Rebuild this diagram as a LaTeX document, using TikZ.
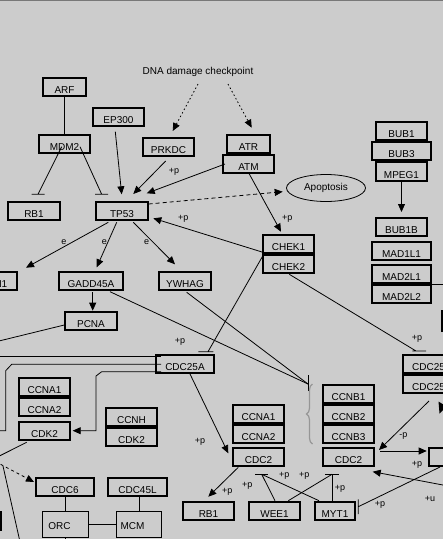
\documentclass[tikz,border=0pt]{standalone}
\usepackage{fontspec}
\setmainfont{Liberation Sans}
\usetikzlibrary{arrows.meta,decorations.pathreplacing,shapes.geometric}
\definecolor{bg}{RGB}{204,204,204}
\definecolor{topline}{RGB}{120,120,120}
\definecolor{bracegray}{RGB}{150,150,150}
\begin{document}
\begin{tikzpicture}[x=1pt,y=-1pt,
  gene/.style={draw=black, line width=2pt, minimum height=18pt, inner sep=0pt, text height=13pt, text depth=0pt, font=\fontsize{10}{12}\selectfont},
  thinbox/.style={draw=black, line width=1pt, inner sep=0pt},
  lbl/.style={font=\fontsize{9}{10}\selectfont, inner sep=0pt},
  txt/.style={font=\fontsize{10}{12}\selectfont, inner sep=0pt},
  conn/.style={line width=0.8pt},
  arr/.style={conn, -{Triangle[length=8pt,width=7pt]}},
  dotarr/.style={conn, dash pattern=on 1.5pt off 2.5pt, -{Triangle[length=8pt,width=7pt]}},
  dasharr/.style={conn, dash pattern=on 4pt off 3pt, -{Triangle[length=8pt,width=7pt]}},
]
\useasboundingbox (0,0) rectangle (443,539);
\fill[bg] (0,0) rectangle (443,539);
\begin{scope}
\clip (0,0) rectangle (443,539);
\draw[topline, line width=1.2pt] (0,0.6) -- (443,0.6);

% ---------- boxes ----------
\node[gene,minimum width=43pt] (ARF) at (64.5,87) {ARF};
\node[gene,minimum width=51pt] (MDM2) at (64.5,144) {MDM2};
\node[gene,minimum width=51pt] (EP300) at (118.5,117) {EP300};
\node[gene,minimum width=51pt] (PRKDC) at (168.5,146.5) {PRKDC};
\node[gene,minimum width=43pt] (ATR) at (248.5,144) {ATR};
\node[gene,minimum width=51pt] (ATM) at (248.5,164) {ATM};
\node[gene,minimum width=51pt] (BUB1) at (401.5,131) {BUB1};
\node[gene,minimum width=59pt] (BUB3) at (401.5,151) {BUB3};
\node[gene,minimum width=51pt,minimum height=19pt] (MPEG1) at (401.5,171.5) {MPEG1};
\node[gene,minimum width=52pt] (RBa) at (34,211) {RB1};
\node[gene,minimum width=52pt] (TP53) at (122,211) {TP53};
\node[gene,minimum width=51pt] (CHEK1) at (288.5,244) {CHEK1};
\node[gene,minimum width=51pt] (CHEK2) at (288.5,264) {CHEK2};
\node[gene,minimum width=51pt] (BUB1B) at (401.5,227) {BUB1B};
\node[gene,minimum width=59pt] (MAD1L1) at (401.5,251) {MAD1L1};
\node[gene,minimum width=59pt] (MAD2L1) at (401.5,274) {MAD2L1};
\node[gene,minimum width=59pt] (MAD2L2) at (401.5,294) {MAD2L2};
\node[gene,minimum width=56pt] (N1box) at (-11,281) {};
\node[txt,anchor=base east] (N1txt) at (7.5,287.3) {N1};
\node[gene,minimum width=64pt] (GADD) at (91,281) {GADD45A};
\node[gene,minimum width=52pt] (YWHAG) at (185,281) {YWHAG};
\node[gene,minimum width=52pt] (PCNA) at (91,321) {PCNA};
\node[gene,minimum width=58pt] (CDC25A) at (185,364) {CDC25A};
\node[gene,minimum width=68pt] (CDC25B) at (437,364) {};
\node[gene,minimum width=68pt] (CDC25C) at (437,384) {};
\node[txt,anchor=base west] (CDC25Bt) at (412,370.5) {CDC25};
\node[txt,anchor=base west] (CDC25Ct) at (412,390.5) {CDC25};
\node[gene,minimum width=51pt] (CCNA1a) at (44.5,387) {CCNA1};
\node[gene,minimum width=51pt] (CCNA2a) at (44.5,407) {CCNA2};
\node[gene,minimum width=51pt] (CDK2a) at (44.5,431) {CDK2};
\node[gene,minimum width=51pt] (CCNH) at (131.5,417) {CCNH};
\node[gene,minimum width=51pt] (CDK2b) at (131.5,437) {CDK2};
\node[gene,minimum width=51pt] (CCNA1b) at (258.5,414) {CCNA1};
\node[gene,minimum width=51pt] (CCNA2b) at (258.5,434) {CCNA2};
\node[gene,minimum width=51pt] (CDC2a) at (258.5,457) {CDC2};
\node[gene,minimum width=51pt] (CCNB1) at (348.5,394) {CCNB1};
\node[gene,minimum width=51pt] (CCNB2) at (348.5,414) {CCNB2};
\node[gene,minimum width=51pt] (CCNB3) at (348.5,434) {CCNB3};
\node[gene,minimum width=51pt] (CDC2b) at (348.5,457) {CDC2};
\node[gene,minimum width=58pt] (CDC6) at (65,487) {CDC6};
\node[gene,minimum width=59pt] (CDC45L) at (137.5,487) {CDC45L};
\node[thinbox,minimum width=46pt,minimum height=26pt] (ORC) at (65.5,524.5) {};
\node[txt,anchor=base] (ORCt) at (59.5,529) {ORC};
\node[thinbox,minimum width=45pt,minimum height=26pt] (MCM) at (139,524.5) {};
\node[txt,anchor=base] (MCMt) at (132.5,529) {MCM};
\node[gene,minimum width=51pt] (RBb) at (208.5,511) {RB1};
\node[gene,minimum width=51pt] (WEE1) at (274.5,511) {WEE1};
\node[gene,minimum width=40pt] (MYT1) at (335,511) {MYT1};
\node[gene,minimum width=40pt] (RBOX) at (449,457) {};
\node[gene,minimum width=40pt,minimum height=20pt] (RBOX2) at (462,321) {};
\node[gene,minimum width=50pt] (LBOX) at (-24,521) {};
\node[draw, ellipse, line width=0.8pt, minimum width=79pt, minimum height=27pt, inner sep=0pt, font=\fontsize{10}{12}\selectfont] (APOP) at (326,188) {Apoptosis};
\node[txt] (DNA) at (198,72) {DNA damage checkpoint};

% ---------- connectors ----------
\draw[conn] (ARF.south) -- (ARF.south |- MDM2.north);
\draw[conn] ([shift={(-2.8,2.7)}]MDM2.center) -- ([shift={(4,-16.7)}]RBa.center) ++(-6.5,0) -- ++(13,0);
\draw[conn] ([shift={(15.5,2.7)}]MDM2.center) -- ([shift={(-20.3,-16.7)}]TP53.center) ++(-6.5,0) -- ++(13,0);
\draw[arr] ([shift={(-3.2,14.7)}]EP300.center) -- ([shift={(-0.3,-16.7)}]TP53.center);
\draw[arr] ([shift={(-2.8,14.5)}]PRKDC.center) -- ([shift={(11.3,-17)}]TP53.center);
\draw[arr] ([shift={(-23.5,0)}]ATM.center) -- ([shift={(24.7,-17.7)}]TP53.center);
\draw[dotarr] ([shift={(0,12)}]DNA.center) -- ([shift={(4.2,-15.5)}]PRKDC.center);
\draw[dotarr] ([shift={(30,12)}]DNA.center) -- ([shift={(3.2,-16.3)}]ATR.center);
\draw[dasharr] ([shift={(26.7,-7)}]TP53.center) -- ([shift={(-43.3,3.7)}]APOP.center);
\draw[arr] ([shift={(0.8,10)}]ATM.center) -- ([shift={(-7.5,-12.3)}]CHEK1.center);
\draw[arr] ([shift={(-26.5,8)}]CHEK1.center) -- ([shift={(31.3,7.3)}]TP53.center);
\draw[arr] ([shift={(-13.7,11.3)}]TP53.center) -- ([shift={(37,-13.3)}]N1box.center);
\draw[arr] ([shift={(-5.3,11.3)}]TP53.center) -- ([shift={(5.7,-13.7)}]GADD.center);
\draw[arr] ([shift={(11.3,11.3)}]TP53.center) -- ([shift={(-10,-16.7)}]YWHAG.center);
\draw[arr] ([shift={(1.7,11)}]GADD.center) -- ([shift={(1.7,-10.3)}]PCNA.center);
\coordinate (pcnaL) at (-10,343.2);
\draw[conn] ([shift={(-26.7,4)}]PCNA.center) -- (pcnaL);
\coordinate (tb) at ([shift={(-40.5,-10)}]CCNB1.center);
\draw[conn] ([shift={(19,10.7)}]GADD.center) -- (tb);
\draw[conn] ([shift={(1.7,11.3)}]YWHAG.center) -- (tb);
\draw[conn] ([shift={(0,-9)}]tb) -- ([shift={(0,7)}]tb);
\draw[bracegray, line width=1.2pt, decorate, decoration={brace, amplitude=6pt}] ([shift={(-36,50)}]CCNB1.center) -- ([shift={(-36,-10)}]CCNB1.center);
\draw[conn] ([shift={(-25.2,11)}]CHEK1.center) -- ([shift={(23,-12.3)}]CDC25A.center) ++(-9.7,0) -- ++(15,0);
\draw[conn] ([shift={(0.8,10.3)}]CHEK2.center) -- ([shift={(-21,-13)}]CDC25B.center) ++(-3.7,0) -- ++(13.7,0);
\coordinate (cL1) at (-10,356.7);
\draw[conn] (cL1) -- ([shift={(-24,-7.3)}]CDC25A.center);
\coordinate (cL2) at (-10,430.7);
\draw[conn] (cL2) -- ++(15.7,0) -- ++(0,-60) -- ++(6,-6.4) -- ([shift={(-24,0.3)}]CDC25A.center);
\draw[arr] ([shift={(-24,7.7)}]CDC25A.center) -- ++(-59.3,0) -- ++(-5.7,4.3) |- ([shift={(28.2,-0.3)}]CDK2a.center);
\draw[arr] ([shift={(5,10)}]CDC25A.center) -- ([shift={(-30.2,-3.7)}]CDC2a.center);
\coordinate (cL3) at (-10,460.7);
\draw[conn] ([shift={(-17.8,11.3)}]CDK2a.center) -- (cL3);
\coordinate (cL4) at (-10,458.7);
\draw[conn, dash pattern=on 3pt off 3pt, -{Triangle[length=8pt,width=7pt]}] (cL4) -- ([shift={(-31,-5)}]CDC6.center);
\coordinate (cL5) at (3,466);
\coordinate (cL6) at (20.7,545);
\draw[conn] (cL5) -- (cL6);
\draw[conn] (ORC.north) -- (ORC.north |- CDC6.south);
\draw[conn] (MCM.north) -- (MCM.north |- CDC45L.south);
\draw[conn] (ORC.east) -- (MCM.west);
\draw[conn] (ORC.south) -- ++(0,8);
\draw[arr] ([shift={(-20.2,10.3)}]CDC2a.center) -- ([shift={(-0.2,-14.3)}]RBb.center);
\coordinate (wb1) at ([shift={(-12.8,-36.7)}]WEE1.center);
\coordinate (wb2) at ([shift={(-3,-36.7)}]MYT1.center);
\draw[conn] ([shift={(-6.7,0)}]wb1) -- ([shift={(6.7,0)}]wb1);
\draw[conn] ([shift={(-6.7,0)}]wb2) -- ([shift={(6.7,0)}]wb2);
\draw[conn] ([shift={(0.5,-10.3)}]WEE1.center) -- (wb1);
\draw[conn] ([shift={(13.8,-10.3)}]WEE1.center) -- (wb2);
\draw[conn] ([shift={(-16,-10.3)}]MYT1.center) -- (wb1);
\draw[conn] ([shift={(-3,-10.3)}]MYT1.center) -- (wb2);
\draw[conn] ([shift={(-9,10)}]RBOX.center) -- ([shift={(23.3,-4.3)}]MYT1.center) ++(0,-7.4) -- ++(0,14.7);
\draw[arr] ([shift={(31.5,-6)}]CDC2b.center) -- ([shift={(-22.3,-6)}]RBOX.center);
\draw[arr] ([shift={(-8,17)}]CDC25C.center) -- ([shift={(30.5,-7)}]CDC2b.center);
\coordinate (cR1) at (455,487.3);
\draw[arr] (cR1) -- ([shift={(24.2,14.7)}]CDC2b.center);
\draw[arr, shorten >=5pt] (MPEG1.south) -- (BUB1B.north);
\coordinate (cR2) at (452,284.3);
\draw[conn] ([shift={(30.5,10.3)}]MAD2L1.center) -- (cR2);
\fill ([shift={(1.5,17.5)}]CDC25C.center) -- ++(8,5) -- ++(-7,7) -- cycle;

% ---------- labels ----------
\node[lbl] (p1) at (174,172) {+p};
\node[lbl] (p2) at (287.3,219.3) {+p};
\node[lbl] (p3) at (183.3,219.3) {+p};
\node[lbl] (p4) at (180,342.3) {+p};
\node[lbl] (p5) at (417,339.3) {+p};
\node[lbl] (p6) at (200,442.3) {+p};
\node[lbl] (p7) at (227.3,492.3) {+p};
\node[lbl] (p8) at (247.3,485.7) {+p};
\node[lbl] (p9) at (284.3,475.7) {+p};
\node[lbl] (p10) at (304.3,475.7) {+p};
\node[lbl] (p11) at (340,489) {+p};
\node[lbl] (p12) at (380,505) {+p};
\node[lbl] (p13) at (417,465) {+p};
\node[lbl] (m1) at (403.3,436) {-p};
\node[lbl] (u1) at (430,499) {+u};
\node[lbl] (e1) at (64,241.7) {e};
\node[lbl] (e2) at (104.3,241.7) {e};
\node[lbl] (e3) at (146.7,241.7) {e};
\end{scope}
\end{tikzpicture}
\end{document}
